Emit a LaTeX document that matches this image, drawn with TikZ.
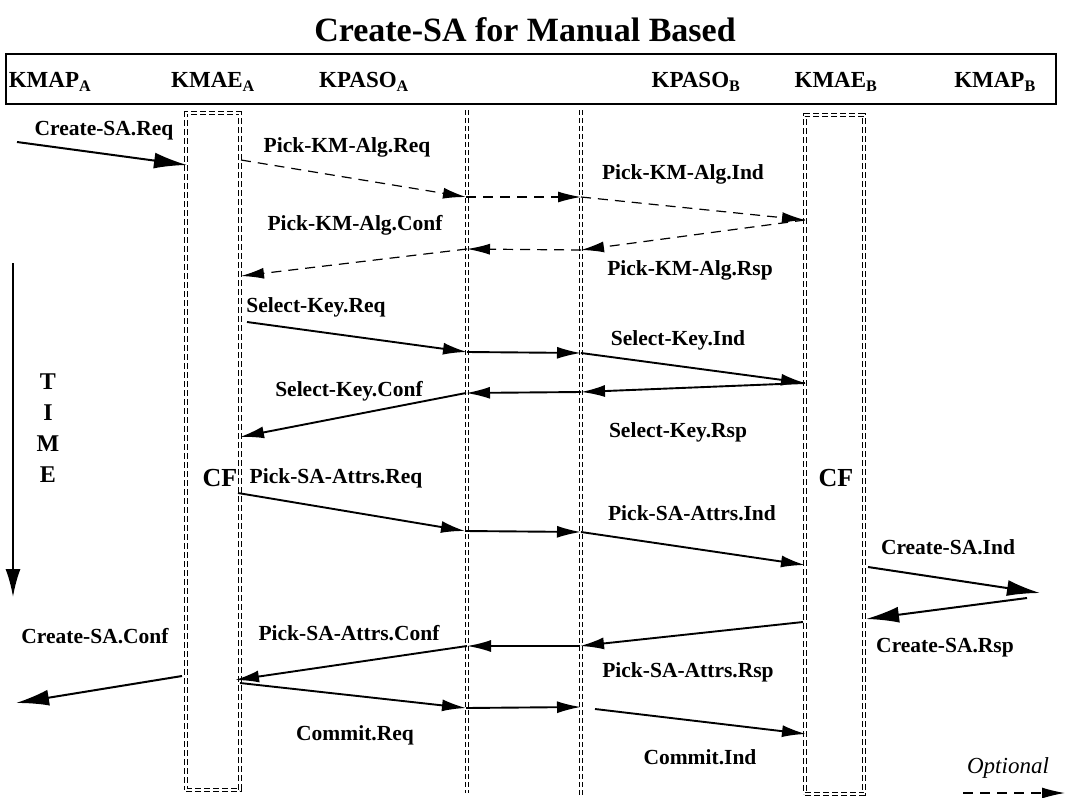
\documentclass[tikz,border=0pt]{standalone}
\usepackage{fontspec}
\setmainfont{Liberation Serif}
\usetikzlibrary{arrows.meta}

\begin{document}
\begin{tikzpicture}[x=1pt,y=-1pt,
  lbl/.style={font=\bfseries\fontsize{21.5}{24}\selectfont, inner sep=0pt},
  hdrlbl/.style={font=\bfseries\fontsize{23}{26}\selectfont, inner sep=0pt},
  msg/.style={line width=1.9pt, -{Latex[length=24pt,width=12pt]}},
  bigmsg/.style={line width=2pt, -{Latex[length=33pt,width=16pt]}},
  optmsg/.style={line width=1.2pt, dash pattern=on 10pt off 7pt, -{Latex[length=23pt,width=11pt]}},
  life/.style={double, double distance=2pt, line width=0.6pt, dash pattern=on 5pt off 3pt},
  cfbox/.style={draw, double, double distance=2pt, line width=0.6pt, dash pattern=on 6pt off 3pt, inner sep=0pt}]
\useasboundingbox (0,0) rectangle (1066,798);

\node[font=\bfseries\fontsize{34}{38}\selectfont] (title) at (525,30) {Create-SA for Manual Based};
\node[draw, line width=1.8pt, minimum width=1050pt, minimum height=50pt, inner sep=0pt] (hdr) at (531,79) {};
\node[hdrlbl] (kmapA) at (50,82) {KMAP\textsubscript{A}};
\node[hdrlbl] (kmaeA) at (213,82) {KMAE\textsubscript{A}};
\node[hdrlbl] (kpasoA) at (364,82) {KPASO\textsubscript{A}};
\node[hdrlbl] (kpasoB) at (696,82) {KPASO\textsubscript{B}};
\node[hdrlbl] (kmaeB) at (836,82) {KMAE\textsubscript{B}};
\node[hdrlbl] (kmapB) at (995,82) {KMAP\textsubscript{B}};

\coordinate (soAtop) at (467,110);
\coordinate (soAbot) at (467,793);
\coordinate (soBtop) at (581,110);
\coordinate (soBbot) at (581,795);
\draw[life] (soAtop) -- (soAbot);
\draw[life] (soBtop) -- (soBbot);
\node[cfbox, minimum width=54pt, minimum height=677pt] (cfA) at (213,451.5) {};
\node[cfbox, minimum width=59pt, minimum height=679pt] (cfB) at (834.5,454.5) {};
\node[font=\bfseries\fontsize{26}{30}\selectfont, inner sep=0pt] (cfAlbl) at (220,478) {CF};
\node[font=\bfseries\fontsize{26}{30}\selectfont, inner sep=0pt] (cfBlbl) at (836,478) {CF};

\coordinate (sareqS) at (17,142);
\coordinate (sareqE) at (187,165);
\draw[bigmsg] (sareqS) -- (sareqE);
\node[lbl] (sareq) at (104,131) {Create-SA.Req};

\coordinate (kmA) at (241,160);
\coordinate (kmP) at (466,197);
\coordinate (kmQ) at (581,197);
\coordinate (kmB) at (805,220);
\coordinate (kmQr) at (581,250);
\coordinate (kmPr) at (467,249);
\coordinate (kmAr) at (241,276);
\draw[optmsg] (kmA) -- (kmP);
\draw[optmsg] (kmP) -- (kmQ);
\draw[optmsg] (kmQ) -- (kmB);
\draw[optmsg] (kmB) -- (kmQr);
\draw[optmsg] (kmQr) -- (kmPr);
\draw[optmsg] (kmPr) -- (kmAr);
\node[lbl] (kmreq) at (347,147) {Pick-KM-Alg.Req};
\node[lbl] (kmind) at (683,174) {Pick-KM-Alg.Ind};
\node[lbl] (kmconf) at (355,225) {Pick-KM-Alg.Conf};
\node[lbl] (kmrsp) at (690,270) {Pick-KM-Alg.Rsp};

\coordinate (skA) at (247,322);
\coordinate (skP) at (467,352);
\coordinate (skQ) at (581,353);
\coordinate (skB) at (805,383);
\coordinate (skQr) at (581,392);
\coordinate (skPr) at (466,393);
\coordinate (skAr) at (240,437);
\draw[msg] (skA) -- (skP);
\draw[msg] (skP) -- (skQ);
\draw[msg] (skQ) -- (skB);
\draw[msg] (skB) -- (skQr);
\draw[msg] (skQr) -- (skPr);
\draw[msg] (skPr) -- (skAr);
\node[lbl] (skreq) at (316,307) {Select-Key.Req};
\node[lbl] (skind) at (678,340) {Select-Key.Ind};
\node[lbl] (skconf) at (349,391) {Select-Key.Conf};
\node[lbl] (skrsp) at (678,432) {Select-Key.Rsp};

\coordinate (paA) at (238,493);
\coordinate (paP) at (465,531);
\coordinate (paQ) at (581,532);
\coordinate (paB) at (805,565);
\coordinate (paBr) at (803,622);
\coordinate (paQr) at (580,646);
\coordinate (paPr) at (467,646);
\coordinate (paAr) at (235,680);
\draw[msg] (paA) -- (paP);
\draw[msg] (paP) -- (paQ);
\draw[msg] (paQ) -- (paB);
\draw[msg] (paBr) -- (paQr);
\draw[msg] (paQr) -- (paPr);
\draw[msg] (paPr) -- (paAr);
\node[lbl] (pareq) at (336,478) {Pick-SA-Attrs.Req};
\node[lbl] (paind) at (692,513) {Pick-SA-Attrs.Ind};
\node[lbl] (paconf) at (349,633) {Pick-SA-Attrs.Conf};
\node[lbl] (parsp) at (688,672) {Pick-SA-Attrs.Rsp};

\coordinate (indS) at (868,567);
\coordinate (indE) at (1040,593);
\coordinate (rspS) at (1027,598);
\coordinate (rspE) at (866,619);
\draw[bigmsg] (indS) -- (indE);
\draw[bigmsg] (rspS) -- (rspE);
\node[lbl] (saind) at (948,547) {Create-SA.Ind};
\node[lbl] (sarsp) at (945,648) {Create-SA.Rsp};

\coordinate (confS) at (182,676);
\coordinate (confE) at (16,703);
\draw[bigmsg] (confS) -- (confE);
\node[lbl] (saconf) at (95,636) {Create-SA.Conf};

\coordinate (cmA) at (240,683);
\coordinate (cmP) at (466,708);
\coordinate (cmQ) at (581,707);
\coordinate (cmQs) at (595,709);
\coordinate (cmB) at (806,734);
\draw[msg] (cmA) -- (cmP);
\draw[msg] (cmP) -- (cmQ);
\draw[msg] (cmQs) -- (cmB);
\node[lbl] (cmreq) at (355,735) {Commit.Req};
\node[lbl] (cmind) at (700,757) {Commit.Ind};

\coordinate (timeS) at (13,263);
\coordinate (timeE) at (13,597);
\draw[line width=2.2pt, -{Latex[length=28pt,width=15pt]}] (timeS) -- (timeE);
\node[font=\bfseries\fontsize{24}{28}\selectfont, inner sep=0pt] (tT) at (48,382) {T};
\node[font=\bfseries\fontsize{24}{28}\selectfont, inner sep=0pt] (tI) at (48,413) {I};
\node[font=\bfseries\fontsize{24}{28}\selectfont, inner sep=0pt] (tM) at (48,444) {M};
\node[font=\bfseries\fontsize{24}{28}\selectfont, inner sep=0pt] (tE) at (48,475) {E};

\node[font=\itshape\fontsize{23}{27}\selectfont, inner sep=0pt] (optlbl) at (1008,768) {Optional};
\coordinate (optS) at (963,793);
\coordinate (optE) at (1065,793);
\draw[optmsg] (optS) -- (optE);
\end{tikzpicture}
\end{document}
